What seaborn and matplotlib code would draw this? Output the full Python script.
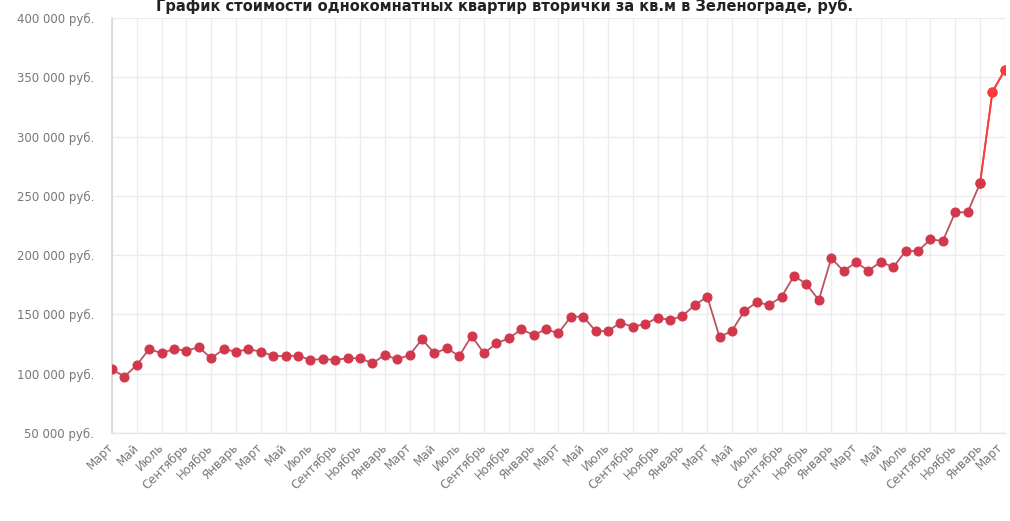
import matplotlib
matplotlib.use("Agg")
import matplotlib.pyplot as plt
import matplotlib.transforms as mtransforms
import seaborn as sns
import pandas as pd
import numpy as np

title = "График стоимости однокомнатных квартир вторички за кв.м в Зеленограде, руб."

# price per sq.m, thousand rubles, monthly from March to March (73 months)
prices_k = [
    103.7, 97.5, 107.3, 120.8, 117.2, 120.8, 119.4, 122.3, 113.0, 120.6,
    118.6, 120.6, 118.6, 114.9, 114.9, 115.2, 111.6, 112.4, 111.6, 113.0,
    113.0, 108.8, 115.8, 112.1, 115.8, 129.0, 117.2, 121.4, 114.9, 131.8,
    117.2, 125.6, 129.8, 137.4, 132.6, 137.4, 134.1, 148.1, 148.1, 136.0,
    136.0, 143.0, 139.6, 141.9, 147.2, 145.3, 148.7, 157.9, 164.9, 130.7,
    136.3, 152.9, 160.2, 157.9, 164.9, 182.6, 175.4, 162.1, 197.3, 186.6,
    193.9, 186.9, 194.4, 189.7, 203.5, 203.5, 213.3, 211.9, 236.1, 236.1,
    260.5, 337.8, 356.1,
]

month_labels = [
    "Март", "Май", "Июль", "Сентябрь", "Ноябрь", "Январь",
    "Март", "Май", "Июль", "Сентябрь", "Ноябрь", "Январь",
    "Март", "Май", "Июль", "Сентябрь", "Ноябрь", "Январь",
    "Март", "Май", "Июль", "Сентябрь", "Ноябрь", "Январь",
    "Март", "Май", "Июль", "Сентябрь", "Ноябрь", "Январь",
    "Март", "Май", "Июль", "Сентябрь", "Ноябрь", "Январь",
    "Март",
]

y_ticks = [50000, 100000, 150000, 200000, 250000, 300000, 350000, 400000]
y_tick_labels = ["50 000 руб.", "100 000 руб.", "150 000 руб.", "200 000 руб.",
                 "250 000 руб.", "300 000 руб.", "350 000 руб.", "400 000 руб."]

df = pd.DataFrame({"month": np.arange(len(prices_k)),
                   "price": np.array(prices_k) * 1000})

sns.set_theme(style="white")
plt.rcParams["font.family"] = ["DejaVu Sans"]

fig = plt.figure(figsize=(10.10, 5.21), dpi=100)
ax = fig.add_axes([0.1109, 0.169, 0.884, 0.7965])

main_color = "#d3374b"
line_color = "#b95562"
tail_color = "#ff3a3a"

sns.lineplot(data=df, x="month", y="price", ax=ax, color=line_color,
             linewidth=1.3, marker="o", markersize=6.5,
             markerfacecolor=main_color, markeredgecolor=main_color, zorder=3)
tail = df.iloc[-3:]
sns.lineplot(data=tail.iloc[1:], x="month", y="price", ax=ax, color=tail_color,
             linewidth=1.3, marker="o", markersize=6.5,
             markerfacecolor=tail_color, markeredgecolor=tail_color, zorder=4)
ax.plot(tail["month"].iloc[:2], tail["price"].iloc[:2], color=tail_color,
        linewidth=1.3, zorder=3.5)
ax.plot(tail["month"].iloc[:1], tail["price"].iloc[:1], "o", color=main_color,
        markersize=6.5, zorder=5)

ax.set_xlim(0, len(prices_k) - 1)
ax.set_ylim(50000, 400000)
ax.set_xticks(np.arange(0, len(prices_k), 2), month_labels)
ax.set_yticks(y_ticks, y_tick_labels)
ax.set_xlabel("")
ax.set_ylabel("")

ax.tick_params(axis="x", labelsize=8.5, colors="#777777", length=5, width=0.8,
               pad=4, color="#dddddd")
ax.tick_params(axis="y", labelsize=8.5, colors="#777777", length=0, pad=13)

xlbls = ax.get_xticklabels()
for lbl in xlbls:
    lbl.set_rotation(45)
    lbl.set_ha("right")
    lbl.set_va("center")
    lbl.set_rotation_mode("anchor")
xlbls[-1].set_transform(xlbls[-1].get_transform() +
                        mtransforms.ScaledTranslation(-4 / 100, 0, fig.dpi_scale_trans))

ax.grid(True, color="#ececec", linewidth=1.0)
ax.set_axisbelow(True)
for side in ["top", "right"]:
    ax.spines[side].set_visible(False)
ax.spines["left"].set_color("#d8d8d8")
ax.spines["left"].set_linewidth(1.2)
ax.spines["bottom"].set_color("#e4e4e4")
ax.spines["bottom"].set_linewidth(1.0)

fig.text(0.5, 1 - 6 / 521, title, ha="center", va="center",
         fontsize=10.5, fontweight="bold", color="#222222")

fig.savefig("out.png", dpi=100)
